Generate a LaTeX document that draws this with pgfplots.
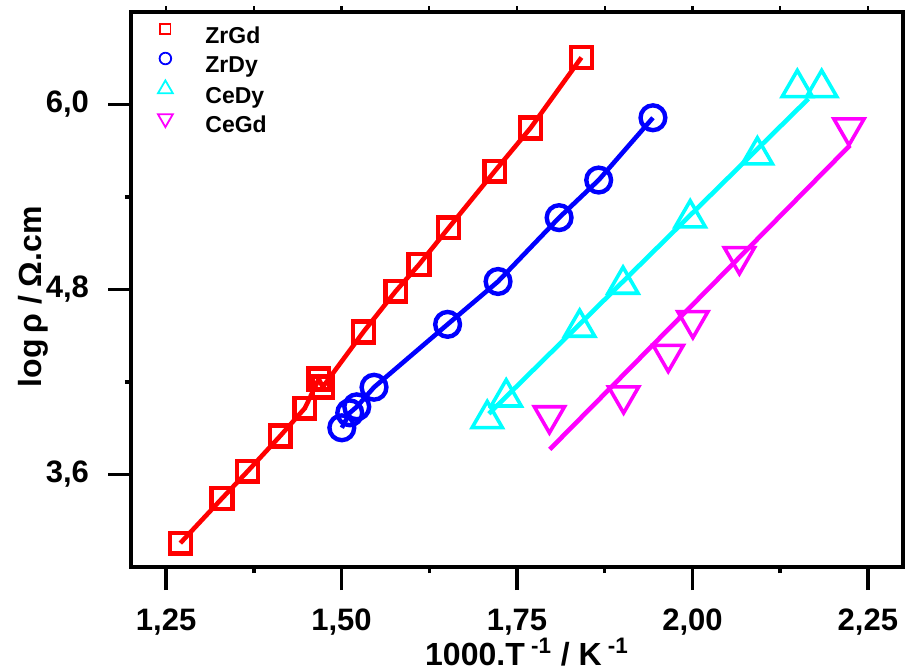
\documentclass[border=0pt]{standalone}
\usepackage{pgfplots}
\pgfplotsset{compat=1.18}
\usepackage{fontspec}
\setmainfont{Liberation Sans}
\definecolor{cRed}{RGB}{255,0,0}
\definecolor{cBlue}{RGB}{0,0,255}
\definecolor{cCyan}{RGB}{0,255,255}
\definecolor{cMag}{RGB}{255,0,255}
\begin{document}
\begin{tikzpicture}
\useasboundingbox (-65.5pt,-52pt) rectangle (387pt,283.5pt);
\begin{axis}[
  at={(0,0)}, anchor=south west,
  scale only axis, width=386pt, height=277.5pt,
  xmin=1.2, xmax=2.3, ymin=3.0, ymax=6.6,
  axis line style={line width=1.8pt},
  tick style={line width=1.75pt, black},
  tick align=outside,
  major tick length=11.5pt, minor tick length=3pt,
  xtick pos=bottom, ytick pos=left,
  xtick={1.25,1.5,1.75,2.0,2.25}, minor xtick={1.375,1.625,1.875,2.125},
  ytick={3.6,4.8,6.0}, minor ytick={4.2,5.4},
  xticklabel={\pgfmathprintnumber[fixed,fixed zerofill,precision=2,use comma,assume math mode=true]{\tick}},
  yticklabel={\pgfmathprintnumber[fixed,fixed zerofill,precision=1,use comma,assume math mode=true]{\tick}},
  ticklabel style={font=\bfseries\fontsize{15.5}{15.5}\selectfont},
  xticklabel style={yshift=-6pt},
  yticklabel style={xshift=-6pt},
  xlabel={1000.T\textsuperscript{ -1} / K\textsuperscript{ -1}},
  ylabel={log\,ρ / Ω.cm},
  xlabel style={at={(axis description cs:0.513,-0.178)}, anchor=base, font=\bfseries\fontsize{16}{16}\selectfont},
  ylabel style={at={(axis description cs:-0.126,0.487)}, anchor=center, rotate=0, font=\bfseries\fontsize{16}{16}\selectfont},
  legend image code/.code={\path[draw=none,fill=none] (-6pt,-2pt) rectangle (20pt,8pt); \draw[#1] plot coordinates {(0pt,4.2pt)};},
  legend style={draw=none, fill=none, at={(axis description cs:0,1)}, anchor=north west, xshift=11pt, yshift=-4.5pt,
    font=\bfseries\fontsize{11.5}{11.5}\selectfont, row sep=0.75pt, inner sep=0pt,
    nodes={inner sep=0pt, text height=9pt, text depth=3pt}},
  legend cell align=left,
]
% ZrGd
\addplot[cRed, line width=2.3pt, mark=square, mark size=5.2pt, mark options={fill=white, line width=2.2pt, solid}, forget plot] coordinates {
(1.2703,3.155) (1.3297,3.445) (1.3662,3.621) (1.4126,3.850) (1.4477,4.030) (1.4676,4.219) (1.4733,4.168)
(1.5312,4.525) (1.5772,4.789) (1.6103,4.961) (1.6526,5.200) (1.7184,5.568) (1.7692,5.847) (1.8418,6.305)};
% ZrDy
\addplot[cBlue, line width=2.3pt, mark=o, mark size=6.2pt, mark options={fill=white, line width=2.2pt, solid}, forget plot] coordinates {
(1.5004,3.903) (1.5117,4.000) (1.5217,4.039) (1.5463,4.166) (1.6511,4.574) (1.7230,4.852) (1.8100,5.266) (1.8664,5.510) (1.9437,5.914)};
% CeDy fit line
\addplot[cCyan, line width=2.3pt, forget plot] coordinates {(1.7099,3.994) (2.1651,6.037)};
\addplot[cCyan, only marks, mark=triangle, mark size=8.7pt, mark options={fill=white, line width=1.8pt, solid}, forget plot] coordinates {
(1.7076,3.961) (1.7346,4.101) (1.8393,4.553) (1.9011,4.832) (1.9968,5.263) (2.0925,5.671) (2.1494,6.108) (2.1841,6.108)};
% CeGd fit line
\addplot[cMag, line width=2.3pt, forget plot] coordinates {(1.7967,3.763) (2.2244,5.735)};
\addplot[cMag, only marks, mark=triangle, mark size=8.7pt, mark options={fill=white, line width=1.8pt, solid, rotate=180}, forget plot] coordinates {
(1.7962,3.983) (1.9019,4.112) (1.9655,4.381) (2.0006,4.600) (2.0669,5.015) (2.2230,5.850)};
\addlegendimage{cRed, mark=square, mark size=2.6pt, mark options={fill=white, line width=0.9pt}}
\addlegendentry{ZrGd}
\addlegendimage{cBlue, mark=o, mark size=2.9pt, mark options={fill=white, line width=0.9pt}}
\addlegendentry{ZrDy}
\addlegendimage{cCyan, mark=triangle, mark size=4.3pt, mark options={fill=white, line width=0.9pt}}
\addlegendentry{CeDy}
\addlegendimage{cMag, mark=triangle, mark size=4.3pt, mark options={fill=white, line width=0.9pt, rotate=180}}
\addlegendentry{CeGd}
\end{axis}
\begin{axis}[
  at={(0,0)}, anchor=south west,
  scale only axis, width=386pt, height=277.5pt,
  xmin=1.2, xmax=2.3, ymin=3.0, ymax=6.6,
  axis line style={line width=1.8pt},
  tick style={line width=1.2pt, black},
  tick align=outside, major tick length=3pt,
  xtick pos=top, ytick pos=right,
  xtick={1.25,1.375,...,2.25}, ytick={3.6,4.2,...,6.0},
  xticklabels={}, yticklabels={},
]
\end{axis}
\end{tikzpicture}
\end{document}
